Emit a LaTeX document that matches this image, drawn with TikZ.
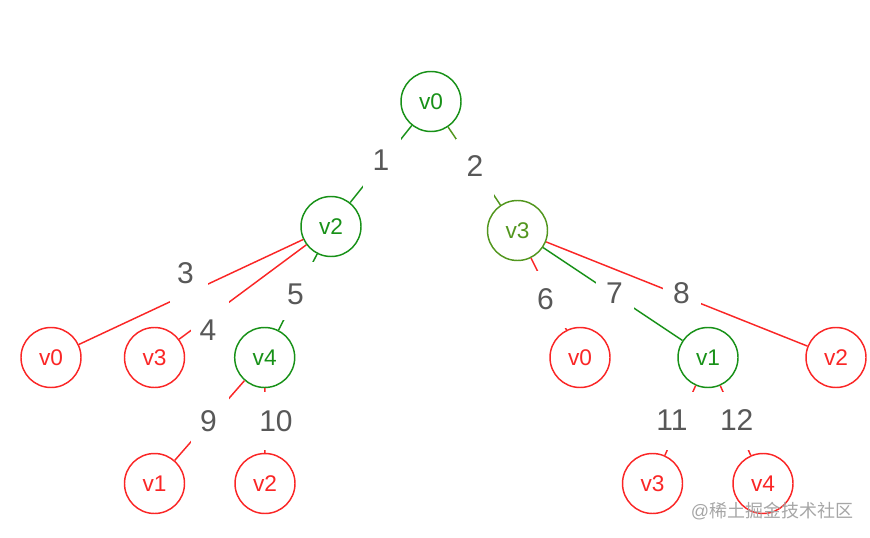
\documentclass[tikz,border=0pt]{standalone}
\usepackage{fontspec}
\setmainfont{Liberation Sans}
\newfontfamily\cjkfont{Noto Sans CJK SC}
\usepackage{xcolor}

\definecolor{grn}{RGB}{24,145,24}
\definecolor{olv}{RGB}{82,150,30}
\definecolor{rd}{RGB}{250,38,38}
\definecolor{numgray}{RGB}{88,88,88}

\begin{document}
\begin{tikzpicture}[x=0.75pt, y=-0.75pt,
    vtx/.style={circle, draw, line width=1.1pt, minimum size=45pt, inner sep=0pt, font=\fontsize{17}{17}\selectfont},
    gv/.style={vtx, draw=grn, text=grn},
    ov/.style={vtx, draw=olv, text=olv},
    rv/.style={vtx, draw=rd, text=rd},
    edge/.style={line width=1.1pt},
    gap/.style={fill=white, minimum width=28.5pt, minimum height=43pt, inner sep=0pt},
    num/.style={text=numgray, inner sep=0pt, font=\fontsize{22.5}{22.5}\selectfont}]

    \useasboundingbox (0,0) rectangle (870,538);

    % vertices
    \node[gv] (v0) at (431, 101.5) {v0};
    \node[gv] (v2) at (331, 226.5) {v2};
    \node[ov] (v3) at (517.5, 230.5) {v3};

    \node[rv] (v0a) at (51, 357.5) {v0};
    \node[rv] (v3a) at (154.5, 357.5) {v3};
    \node[gv] (v4) at (264.7, 357.5) {v4};
    \node[rv] (v0b) at (580, 357.5) {v0};
    \node[gv] (v1) at (708, 357.5) {v1};
    \node[rv] (v2a) at (836, 357.5) {v2};

    \node[rv] (v1a) at (154.5, 483.5) {v1};
    \node[rv] (v2b) at (265, 483.5) {v2};
    \node[rv] (v3b) at (652.5, 483.5) {v3};
    \node[rv] (v4b) at (763, 483.5) {v4};

    % edges, each with its number
    \draw[edge, grn] (v0) -- (v2);
    \node[gap] (g1) at (382, 162.5) {};
    \node[num] (n1) at (381, 160) {1};

    \draw[edge, olv] (v0) -- (v3);
    \node[gap] (g2) at (475, 168) {};
    \node[num] (n2) at (475, 166) {2};

    \draw[edge, rd] (v2) -- (v0a);
    \node[gap] (g3) at (189, 294) {};
    \node[num] (n3) at (185.5, 273.5) {3};

    \draw[edge, grn] (v2) -- (v4);
    \node[gap] (g5) at (300, 291) {};
    \node[num] (n5) at (295.5, 294) {5};

    \draw[edge, rd] (v2) -- (v3a);
    \node[gap] (g4) at (210, 316.5) {};
    \node[num] (n4) at (208, 330) {4};

    \draw[edge, rd] (v3) -- (v0b);
    \node[gap] (g6) at (552, 299.5) {};
    \node[num] (n6) at (545.5, 299.5) {6};

    \draw[edge, grn] (v3) -- (v1);
    \node[gap] (g7) at (614.5, 295.5) {};
    \node[num] (n7) at (614.5, 293) {7};

    \draw[edge, rd] (v3) -- (v2a);
    \node[gap] (g8) at (682, 297) {};
    \node[num] (n8) at (681.5, 293) {8};

    \draw[edge, rd] (v4) -- (v1a);
    \node[gap] (g9) at (210, 421.5) {};
    \node[num] (n9) at (208.5, 421) {9};

    \draw[edge, rd] (v4) -- (v2b);
    \node[gap] (g10) at (265, 421) {};
    \node[num] (n10) at (276, 421) {10};

    \draw[edge, rd] (v1) -- (v3b);
    \node[gap] (g11) at (681, 421) {};
    \node[num] (n11) at (672, 420.5) {11};

    \draw[edge, rd] (v1) -- (v4b);
    \node[gap] (g12) at (735, 421) {};
    \node[num] (n12) at (736.7, 420.5) {12};

    % watermark
    \node[text=black!35, inner sep=0pt, font=\fontsize{13.5}{13.5}\selectfont] (mark) at (772, 511) {@\cjkfont 稀土掘金技术社区};

\end{tikzpicture}
\end{document}
